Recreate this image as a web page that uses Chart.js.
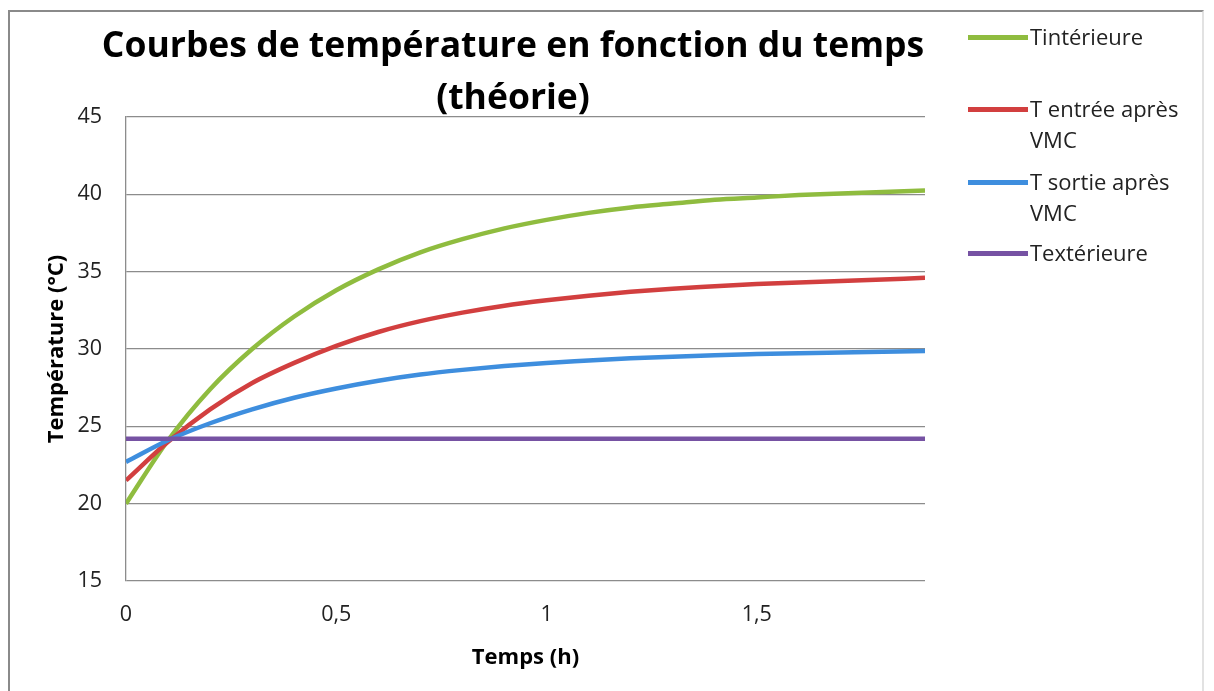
<!DOCTYPE html>
<html lang="fr">
<head>
<meta charset="utf-8">
<title>Courbes de température en fonction du temps</title>
<script src="https://cdn.jsdelivr.net/npm/chart.js@4/dist/chart.umd.min.js"></script>
<style>
  html, body { margin: 0; padding: 0; background: #fff; }
  body { width: 1214px; height: 691px; position: relative; overflow: hidden; font-family: 'Open Sans', sans-serif; }
  #frame {
    position: absolute; left: 8px; top: 10px; width: 1196px; height: 720px;
    border: 2px solid #8a8a8a; border-right-color: #e2e2e2; box-sizing: border-box;
  }
  #chart { position: absolute; left: 0; top: 0; }
  #title {
    position: absolute; left: 0; top: 17px; width: 1026px; text-align: center;
    font-weight: 700; font-size: 35.5px; line-height: 52px; color: #000;
  }
  .leg { position: absolute; left: 968px; font-size: 22px; line-height: 31px; color: #222; }
  .leg .sw { position: absolute; left: 0; top: 14px; width: 60px; height: 5px; }
  .leg .tx { position: absolute; left: 62px; white-space: nowrap; }
</style>
</head>
<body>
<div id="frame"></div>
<canvas id="chart" width="1214" height="691"></canvas>
<div id="title">Courbes de température en fonction du temps<br>(théorie)</div>
<div id="legend"></div>

<script>
// time (h)
const temps = [0, 0.1, 0.2, 0.3, 0.4, 0.5, 0.6, 0.7, 0.8, 0.9, 1.0, 1.1, 1.2, 1.3, 1.4, 1.5, 1.6, 1.7, 1.8, 1.9];

// temperatures (°C)
const tInterieure = [20.0, 24.1, 27.4, 30.0, 32.1, 33.8, 35.15, 36.25, 37.1, 37.8, 38.35, 38.8, 39.15, 39.4, 39.65, 39.8, 39.95, 40.05, 40.15, 40.25];
const tEntree     = [21.5, 24.0, 26.1, 27.8, 29.1, 30.2, 31.1, 31.8, 32.35, 32.8, 33.15, 33.45, 33.7, 33.9, 34.05, 34.2, 34.3, 34.4, 34.5, 34.6];
const tSortie     = [22.7, 24.1, 25.2, 26.1, 26.85, 27.45, 27.95, 28.35, 28.65, 28.9, 29.1, 29.25, 29.4, 29.5, 29.6, 29.67, 29.73, 29.78, 29.83, 29.87];
const tExterieure = [24.2, 24.2, 24.2, 24.2, 24.2, 24.2, 24.2, 24.2, 24.2, 24.2, 24.2, 24.2, 24.2, 24.2, 24.2, 24.2, 24.2, 24.2, 24.2, 24.2];

const seriesNames  = ['Tintérieure', 'T entrée après VMC', 'T sortie après VMC', 'Textérieure'];
const legendLines  = [['Tintérieure'], ['T entrée après', 'VMC'], ['T sortie après', 'VMC'], ['Textérieure']];
const legendTops   = [21, 93, 166, 237];
const seriesColors = ['#8fbc3f', '#d23f3f', '#3e8ede', '#7652a3'];
const seriesData   = [tInterieure, tEntree, tSortie, tExterieure];

const yTicks = [15, 20, 25, 30, 35, 40, 45];
const xTicks = [0, 0.5, 1, 1.5];

function toPoints(values) {
  return values.map((v, i) => ({ x: temps[i], y: v }));
}

const datasets = seriesData.map((values, i) => ({
  label: seriesNames[i],
  data: toPoints(values),
  borderColor: seriesColors[i],
  backgroundColor: seriesColors[i],
  borderWidth: 4.5,
  pointRadius: 0,
  cubicInterpolationMode: 'monotone',
  fill: false,
  order: seriesData.length - i, // last series on top, as in the picture
}));

const tickFont  = { family: "'Open Sans', sans-serif", size: 21.5 };
const titleFont = { family: "'Open Sans', sans-serif", size: 22, weight: 'bold' };

new Chart(document.getElementById('chart').getContext('2d'), {
  type: 'line',
  data: { datasets },
  options: {
    responsive: false,
    animation: false,
    layout: { padding: { left: 0, top: 117, right: 289, bottom: 0 } },
    plugins: {
      legend: { display: false },
      tooltip: { enabled: false },
    },
    scales: {
      x: {
        type: 'linear',
        min: 0,
        max: 1.9,
        afterFit: s => { s.height = 110; },
        afterBuildTicks: s => { s.ticks = xTicks.map(v => ({ value: v })); },
        ticks: {
          color: '#222',
          font: tickFont,
          padding: 21,
          maxRotation: 0,
          callback: v => String(v).replace('.', ','),
        },
        grid: { display: false, drawTicks: false },
        border: { display: false },
        title: { display: true, text: 'Temps (h)', color: '#000', font: titleFont, padding: { top: 0, bottom: 20 } },
      },
      y: {
        min: 15,
        max: 45,
        afterFit: s => { s.width = 126; },
        afterBuildTicks: s => { s.ticks = yTicks.map(v => ({ value: v })); },
        ticks: { color: '#222', font: tickFont, padding: 24 },
        grid: { color: '#8c8c8c', lineWidth: 1.3, drawTicks: false },
        border: { display: true, color: '#8c8c8c', width: 1.3 },
        title: { display: true, text: 'Température (°C)', color: '#000', font: titleFont, padding: { top: 44, bottom: 0 } },
      },
    },
  },
});

// legend on the right, drawn as text next to a short line sample
const legendBox = document.getElementById('legend');
legendLines.forEach((lines, i) => {
  const item = document.createElement('div');
  item.className = 'leg';
  item.style.top = legendTops[i] + 'px';
  item.innerHTML = `<div class="sw" style="background:${seriesColors[i]}"></div><div class="tx">${lines.join('<br>')}</div>`;
  legendBox.appendChild(item);
});
</script>
</body>
</html>
